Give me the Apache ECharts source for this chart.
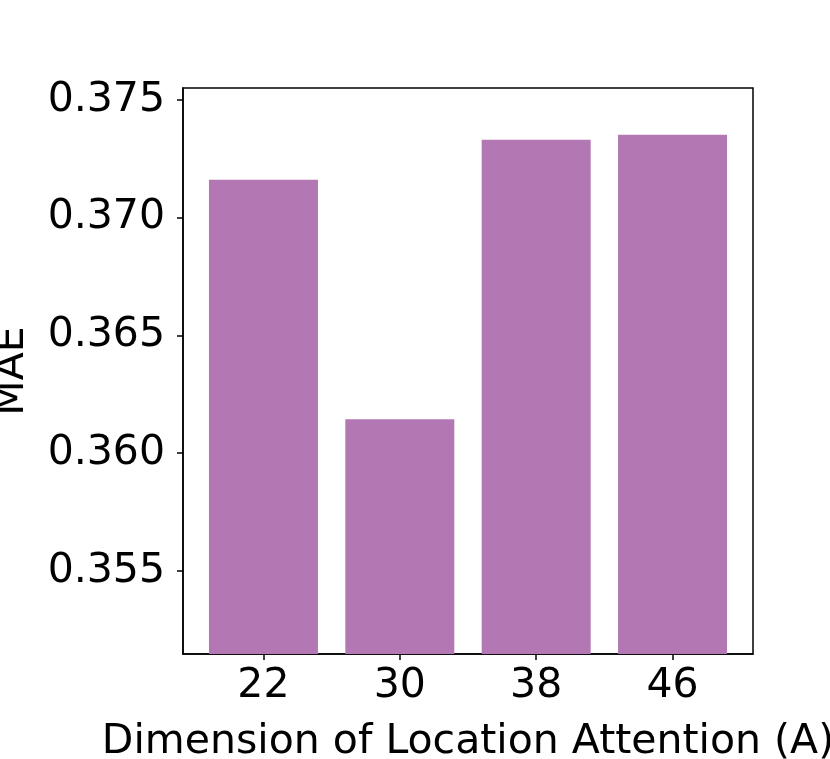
<!DOCTYPE html>
<html>
<head>
<meta charset="utf-8">
<script src="https://cdn.jsdelivr.net/npm/echarts@6/dist/echarts.min.js"></script>
<style>
  html, body { margin: 0; padding: 0; background: #fff; }
  #chart { width: 830px; height: 759px; }
</style>
</head>
<body>
<div id="chart"></div>
<script>
// categories on the x axis
var categories = ["22", "30", "38", "46"];
// MAE values
var maeValues = [0.37161, 0.36144, 0.37331, 0.37352];
// y tick positions
var yTicks = [0.355, 0.360, 0.365, 0.370, 0.375];

var chart = echarts.init(document.getElementById("chart"));

var font = "DejaVu Sans";

var option = {
  animation: false,
  grid: {
    left: 183,
    right: 77,
    top: 88,
    bottom: 105,
    containLabel: false,
    outerBoundsMode: "none",
    show: true,
    borderColor: "#000",
    borderWidth: 1.5,
    backgroundColor: "transparent"
  },
  xAxis: {
    type: "value",
    min: -0.59,
    max: 3.59,
    name: "Dimension of Location Attention (A)",
    nameLocation: "middle",
    nameGap: 68,
    nameTextStyle: { fontFamily: font, fontSize: 41, color: "#000" },
    splitLine: { show: false },
    axisLine: { show: true, onZero: false, lineStyle: { color: "#000", width: 1.5 } },
    axisTick: {
      show: true,
      length: 6,
      customValues: [0, 1, 2, 3],
      lineStyle: { color: "#000", width: 1.5 }
    },
    axisLabel: {
      customValues: [0, 1, 2, 3],
      margin: 12,
      fontFamily: font,
      fontSize: 41,
      color: "#000",
      formatter: function (v) {
        return categories[Math.round(v)];
      }
    }
  },
  yAxis: {
    type: "value",
    min: 0.351475,
    max: 0.37551,
    name: "MAE",
    nameLocation: "middle",
    nameRotate: 90,
    nameGap: 150,
    nameTextStyle: { fontFamily: font, fontSize: 41, color: "#000" },
    splitLine: { show: false },
    axisLine: { show: true, onZero: false, lineStyle: { color: "#000", width: 1.5 } },
    axisTick: {
      show: true,
      length: 6,
      customValues: yTicks,
      lineStyle: { color: "#000", width: 1.5 }
    },
    axisLabel: {
      customValues: yTicks,
      margin: 18,
      fontFamily: font,
      fontSize: 41,
      color: "#000",
      formatter: function (v) {
        return v.toFixed(3);
      }
    }
  },
  series: [
    {
      type: "bar",
      barWidth: 109,
      itemStyle: { color: "#b377b3" },
      data: maeValues.map(function (v, i) {
        return [i, v];
      })
    }
  ]
};

chart.setOption(option);
</script>
</body>
</html>
